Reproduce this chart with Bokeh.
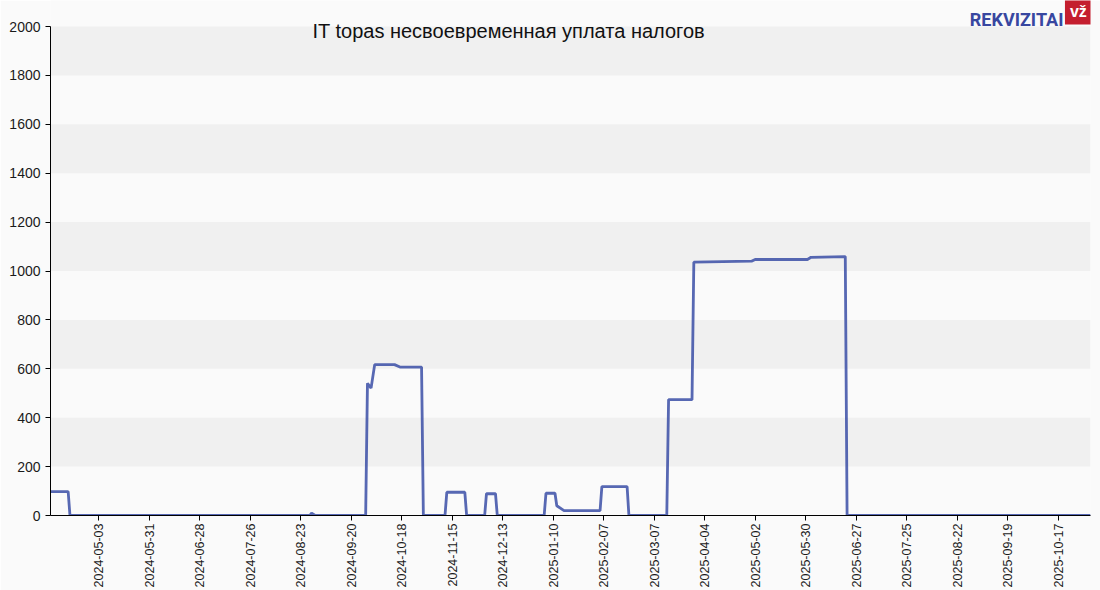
import math
from datetime import datetime, timezone

from bokeh.plotting import figure
from bokeh.models import Range1d, FixedTicker, Label, DatetimeTickFormatter
from bokeh.embed import file_html
from bokeh.resources import INLINE

# ---------------- data ----------------
title_text = "IT topas несвоевременная уплата налогов"
logo_text = "REKVIZITAI"
logo_badge = "vž"

dates = ["2024-04-06", "2024-04-16", "2024-04-17", "2024-08-28", "2024-08-29", "2024-08-31",
         "2024-09-28", "2024-09-29", "2024-10-01", "2024-10-03", "2024-10-14", "2024-10-17",
         "2024-10-29", "2024-10-30", "2024-11-11", "2024-11-12", "2024-11-22", "2024-11-23",
         "2024-12-03", "2024-12-04", "2024-12-09", "2024-12-10", "2025-01-05", "2025-01-06",
         "2025-01-11", "2025-01-12", "2025-01-16", "2025-02-05", "2025-02-06", "2025-02-20",
         "2025-02-21", "2025-03-14", "2025-03-15", "2025-03-28", "2025-03-29", "2025-04-30",
         "2025-05-02", "2025-05-31", "2025-06-02", "2025-06-21", "2025-06-22", "2025-11-04"]
values = [98, 98, 0, 0, 10, 0,
          0, 541, 521, 617, 617, 607,
          607, 0, 0, 95, 95, 0,
          0, 89, 89, 0, 0, 91,
          91, 40, 20, 20, 118, 118,
          0, 0, 474, 474, 1036, 1040,
          1047, 1047, 1056, 1059, 0, 0]

x_tick_labels = ["2024-05-03", "2024-05-31", "2024-06-28", "2024-07-26", "2024-08-23",
                 "2024-09-20", "2024-10-18", "2024-11-15", "2024-12-13", "2025-01-10",
                 "2025-02-07", "2025-03-07", "2025-04-04", "2025-05-02", "2025-05-30",
                 "2025-06-27", "2025-07-25", "2025-08-22", "2025-09-19", "2025-10-17"]
y_ticks = [0, 200, 400, 600, 800, 1000, 1200, 1400, 1600, 1800, 2000]

x_start = "2024-04-06"
x_end = "2025-11-04"
y_max = 2000


def ms(s, hours=0):
    d = datetime.strptime(s, "%Y-%m-%d").replace(tzinfo=timezone.utc)
    return d.timestamp() * 1000.0 + hours * 3600 * 1000.0


xs = [ms(d) for d in dates]
x_ticks = [ms(d) for d in x_tick_labels]

FONT = "Liberation Sans"
BG = "#fafafa"

# frame spans the full height above the x axis; y=2000 sits 26px below the top
FRAME_H = 515
PLOT_H = 489
y_top = y_max * FRAME_H / PLOT_H

p = figure(width=1100, height=590, output_backend="svg", toolbar_location=None,
           x_axis_type="datetime",
           x_range=Range1d(ms(x_start, 5), ms(x_end)),
           y_range=Range1d(0, y_top),
           min_border_left=50, min_border_right=10, min_border_top=0, min_border_bottom=75,
           background_fill_color=BG, border_fill_color=BG)

p.outline_line_color = None

# grid bands
p.xgrid.grid_line_color = None
p.ygrid.grid_line_color = None
p.ygrid.band_fill_color = "#f0f0f0"
p.ygrid.band_fill_alpha = 1.0

# y axis
p.yaxis.ticker = FixedTicker(ticks=y_ticks)
p.yaxis.bounds = (0, y_max)
p.yaxis.minor_tick_line_color = None
p.yaxis.major_tick_in = 0
p.yaxis.major_tick_out = 5
p.yaxis.axis_line_color = "black"
p.yaxis.major_tick_line_color = "black"
p.yaxis.major_label_standoff = 5
p.yaxis.major_label_text_font = FONT
p.yaxis.major_label_text_font_size = "14px"
p.yaxis.major_label_text_color = "#1a1a1a"

# x axis
fmt = "%Y-%m-%d"
p.xaxis.ticker = FixedTicker(ticks=x_ticks)
p.xaxis.formatter = DatetimeTickFormatter(days=fmt, months=fmt, years=fmt, hours=fmt,
                                          hourmin=fmt, minutes=fmt, minsec=fmt,
                                          seconds=fmt, milliseconds=fmt, microseconds=fmt)
p.xaxis.minor_tick_line_color = None
p.xaxis.major_tick_in = 0
p.xaxis.major_tick_out = 5
p.xaxis.axis_line_color = "black"
p.xaxis.major_tick_line_color = "black"
p.xaxis.major_label_orientation = math.pi / 2
p.xaxis.major_label_standoff = 3
p.xaxis.major_label_text_font = FONT
p.xaxis.major_label_text_font_size = "12.5px"
p.xaxis.major_label_text_color = "#1a1a1a"

# line
p.line(xs, values, line_color="#3a4ea6", line_width=2.8, line_alpha=0.85)

# title
p.add_layout(Label(x=ms("2024-12-16", 9), y=1983, text=title_text, text_align="center",
                   text_baseline="alphabetic", text_font=FONT, text_font_size="20px",
                   text_color="#111111"))

# logo
p.add_layout(Label(x=ms("2025-10-20"), y=2028, text=logo_text, text_align="right",
                   text_baseline="alphabetic", text_font="Roboto",
                   text_font_style="bold", text_font_size="18px", text_color="#3847a0"))
p.add_layout(Label(x=ms("2025-10-28", 7), y=2063, text=logo_badge, text_align="center",
                   text_baseline="middle", text_font=FONT, text_font_style="bold",
                   text_font_size="16px", text_color="white",
                   background_fill_color="#c41e2e", padding=5))

open("out.html", "w").write(file_html(p, INLINE))
